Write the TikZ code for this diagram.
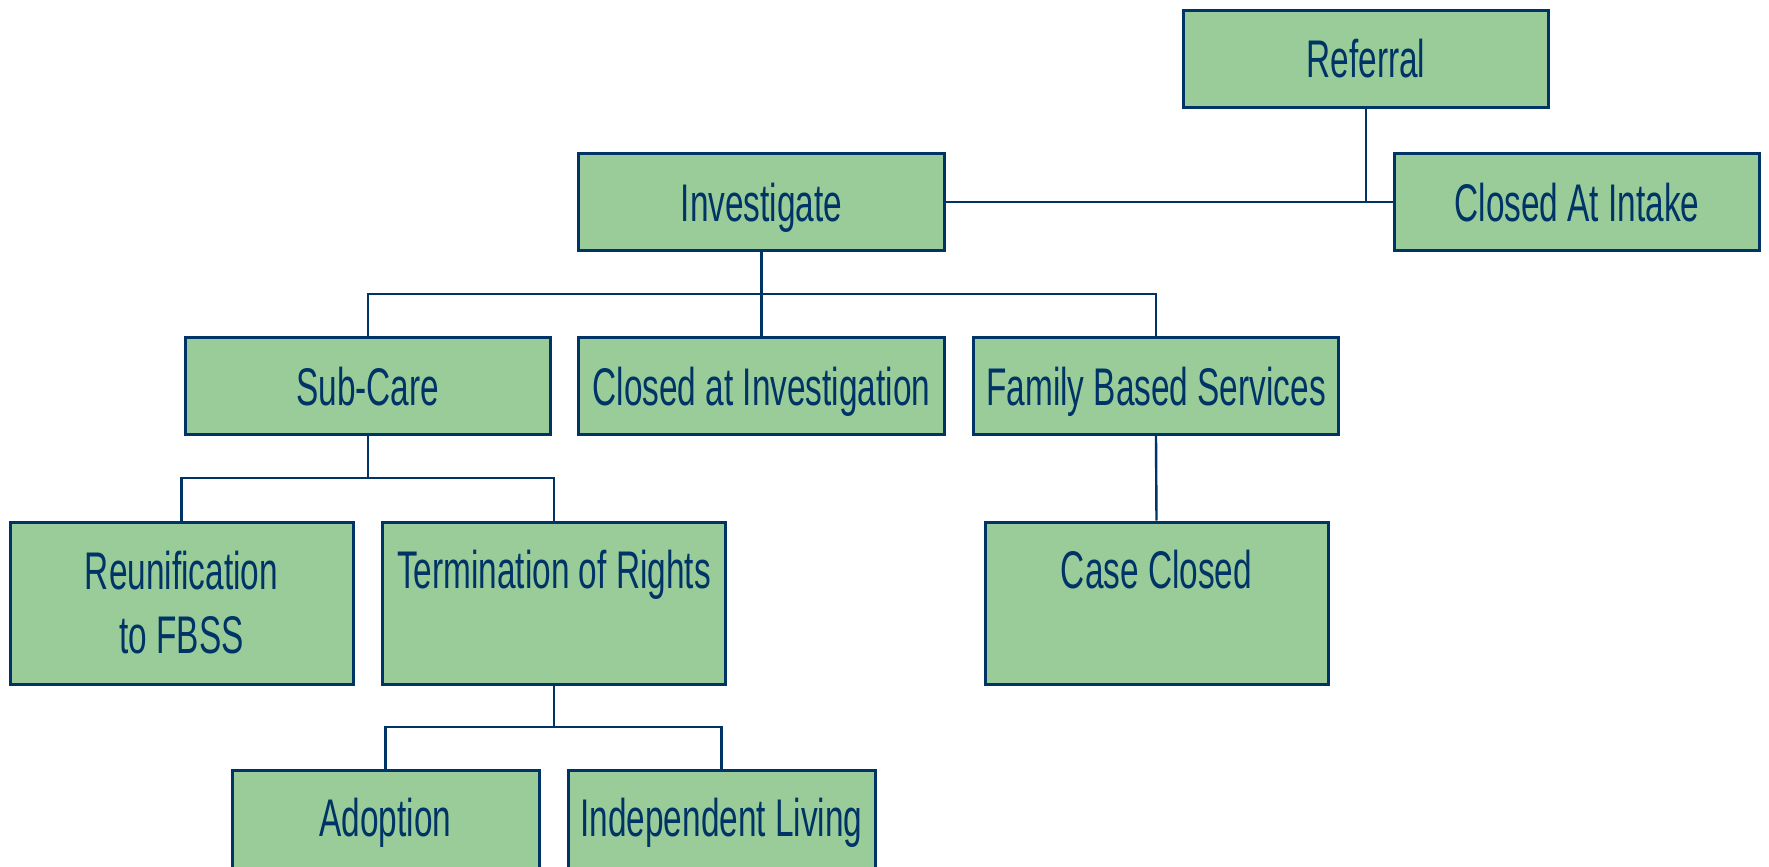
\documentclass[tikz,border=0pt]{standalone}
\usepackage{fontspec}
\setmainfont[FakeStretch=0.63]{Liberation Sans}
\usetikzlibrary{calc}
\definecolor{boxfill}{HTML}{99CC99}
\definecolor{navy}{HTML}{003366}
\begin{document}
\begin{tikzpicture}[x=0.5pt,y=-0.5pt,
  box/.style={draw=navy, line width=1.5pt, fill=boxfill, text=navy,
    font=\fontsize{26.5pt}{32pt}\selectfont, inner sep=0pt, align=center},
  shortbox/.style={box, minimum width=182.75pt, minimum height=48.5pt, text height=19pt, text depth=0pt},
  tallbox/.style={box, minimum width=171.5pt, minimum height=81pt, text height=19pt, text depth=34pt},
  twoline/.style={box, minimum width=171.5pt, minimum height=81pt},
  lowbox/.style={box, minimum width=153.5pt, minimum height=81pt, text height=19pt, text depth=34pt},
  conn/.style={draw=navy, line width=1.2pt}]
\useasboundingbox (0,0) rectangle (1769,867);
\clip (0,0) rectangle (1769,867);
% nodes
\node[shortbox] (ref) at (1366,58.5) {Referral};
\node[shortbox] (intake) at (1577,202) {Closed At Intake};
\node[shortbox] (inv) at (761.5,202) {Investigate};
\node[shortbox] (sub) at (367.75,386) {Sub-Care};
\node[shortbox] (cinv) at (761.5,386) {Closed at Investigation};
\node[shortbox] (fbs) at (1156,386) {Family Based Services};
\node[twoline] (reu) at (181.5,603) {Reunification\\to FBSS};
\node[tallbox] (term) at (554,603) {Termination of Rights};
\node[tallbox] (cc) at (1156.5,603) {Case Closed};
\node[lowbox] (adop) at (385.5,851.5) {Adoption};
\node[lowbox] (indep) at (721.5,851.5) {Independent Living};
% helper coordinates
\coordinate (bus1) at ($(inv.south)!0.5!(cinv.north)$);
\coordinate (bus2) at ($(sub.south)!0.5!(sub.south |- term.north)$);
\coordinate (bus3) at ($(term.south)!0.5!(term.south |- adop.north)$);
% connectors
\draw[conn] (ref.south) -- (ref.south |- inv.east);
\draw[conn] (inv.east) -- (intake.west);
\draw[conn] (inv.south) -- (cinv.north);
\draw[conn] (sub.north) |- (bus1) -| (fbs.north);
\draw[conn] (sub.south) -- (bus2);
\draw[conn] (reu.north) |- (bus2) -| (term.north);
\draw[conn] (fbs.south) -- (cc.north);
\draw[conn] (term.south) -- (bus3);
\draw[conn] (adop.north) |- (bus3) -| (indep.north);
\end{tikzpicture}
\end{document}
